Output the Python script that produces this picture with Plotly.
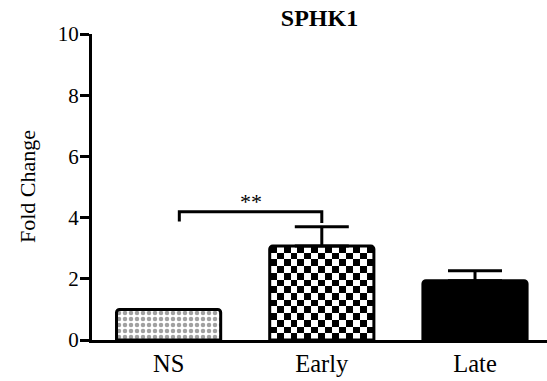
import numpy as np
import plotly.graph_objects as go

# ---- data ----
categories = ["NS", "Early", "Late"]
fold_change = [1.0, 3.07, 1.94]
sem_upper = [0.0, 0.63, 0.32]
y_ticks = [0, 2, 4, 6, 8, 10]

# significance bracket: (x_left, x_right, y_top, y_left_foot, y_right_foot, label)
sig_bracket = (0.07, 1.0, 4.19, 3.87, 3.82, "**")

FONT = "Liberation Serif"
BAR_WIDTH = 0.68
x_pos = list(range(len(categories)))

fig = go.Figure()

# checkerboard fill for the "Early" bar, built from its height
idx = categories.index("Early")
n_x = 15
cell_y = 0.219
n_y = max(1, int(round(fold_change[idx] / cell_y)))
dx = BAR_WIDTH / n_x
dy = fold_change[idx] / n_y
z = [[(i + j) % 2 for i in range(n_x)] for j in range(n_y)]
fig.add_trace(go.Heatmap(
    z=z,
    x0=x_pos[idx] - BAR_WIDTH / 2 + dx / 2, dx=dx,
    y0=dy / 2, dy=dy,
    colorscale=[[0, "white"], [1, "black"]],
    showscale=False, zsmooth=False, hoverinfo="skip",
))

fig.add_trace(go.Bar(
    x=x_pos,
    y=fold_change,
    width=BAR_WIDTH,
    marker=dict(
        color=["white", "rgba(0,0,0,0)", "black"],
        line=dict(color="black", width=3),
        pattern=dict(shape=[".", "", ""], fgcolor="black", size=6, solidity=0.45),
        cornerradius=3,
    ),
    error_y=dict(type="data", symmetric=False, array=sem_upper,
                 arrayminus=[0] * len(sem_upper),
                 color="black", thickness=3, width=27),
    showlegend=False,
))

# significance bracket
xl, xr, yt, yfl, yfr, lab = sig_bracket
fig.add_trace(go.Scatter(
    x=[xl, xl, xr, xr], y=[yfl, yt, yt, yfr],
    mode="lines", line=dict(color="black", width=3),
    hoverinfo="skip", showlegend=False,
))
fig.add_annotation(x=(xl + xr) / 2, y=yt, text=lab, showarrow=False,
                   yanchor="bottom", yshift=-4,
                   font=dict(family=FONT, size=22, color="black"))

# y axis title
fig.add_annotation(xref="paper", yref="paper", x=0, y=0.5, xshift=-65,
                   text="Fold Change", textangle=-90, showarrow=False,
                   xanchor="center", yanchor="middle",
                   font=dict(family=FONT, size=22, color="black"))

fig.update_layout(
    width=547, height=381,
    margin=dict(l=92, r=0, t=34, b=41),
    paper_bgcolor="white", plot_bgcolor="white",
    title=dict(text="<b>SPHK1</b>", x=0.5, xref="paper", xanchor="center",
               y=1 - 18 / 381, yanchor="middle",
               font=dict(family=FONT, size=24, color="black")),
    font=dict(family=FONT, color="black"),
    xaxis=dict(range=[-0.5, 2.47], tickvals=x_pos, ticktext=categories,
               showline=True, linewidth=3, linecolor="black", showgrid=False,
               zeroline=False, ticks="", tickfont=dict(family=FONT, size=24.5)),
    yaxis=dict(range=[0, 10], tickvals=y_ticks, showline=True, linewidth=3,
               linecolor="black", showgrid=False, zeroline=False,
               ticks="outside", ticklen=9, tickwidth=3, tickcolor="black",
               ticklabelstandoff=-3,
               tickfont=dict(family=FONT, size=21)),
)

fig.write_html("out.html")
